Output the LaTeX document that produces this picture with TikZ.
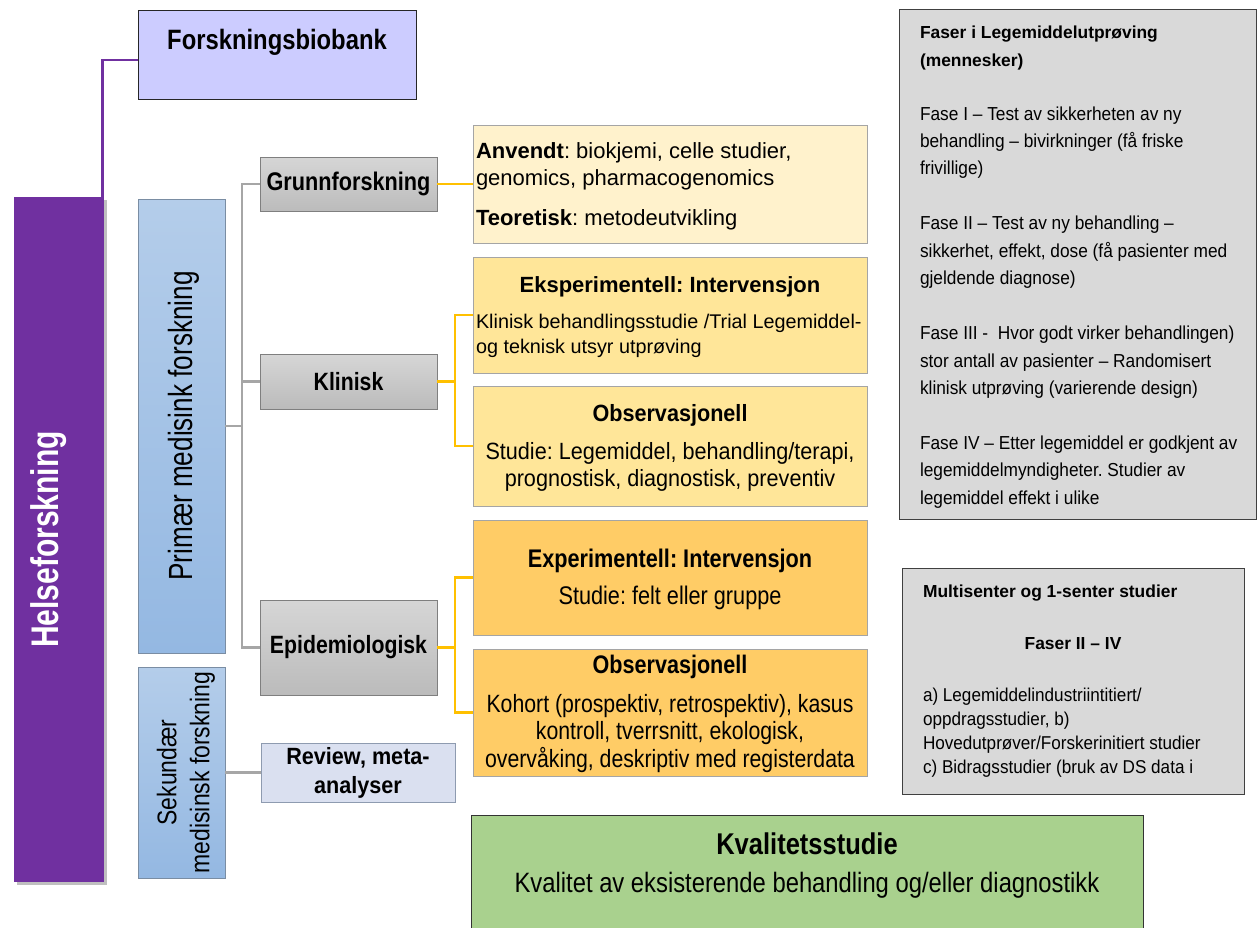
\documentclass[tikz,border=0pt]{standalone}
\usepackage{fontspec}
\setmainfont{Liberation Sans}
\newfontfamily\fA{Liberation Sans}
\newfontfamily\fB{Liberation Sans}[FakeStretch=0.92]
\newfontfamily\fC{Liberation Sans}[FakeStretch=0.85]
\newfontfamily\fD{Liberation Sans}[FakeStretch=0.78]
\usetikzlibrary{shadows,calc}
\definecolor{purp}{HTML}{7030A0}
\definecolor{lav}{HTML}{CCCCFF}
\definecolor{blueTop}{HTML}{B4CDEA}
\definecolor{blueBot}{HTML}{94B8E2}
\definecolor{blueBorder}{HTML}{7A8DA3}
\definecolor{grayTop}{HTML}{D6D6D6}
\definecolor{grayBot}{HTML}{BBBBBB}
\definecolor{grayBorder}{HTML}{7F7F7F}
\definecolor{revFill}{HTML}{DAE0F0}
\definecolor{revBorder}{HTML}{8E9BB0}
\definecolor{cream}{HTML}{FFF2CC}
\definecolor{yelA}{HTML}{FFE699}
\definecolor{yelB}{HTML}{FFCC66}
\definecolor{boxBorder}{HTML}{A5A5A5}
\definecolor{lineGray}{HTML}{A6A6A6}
\definecolor{lineYel}{HTML}{FFC000}
\definecolor{faserFill}{HTML}{D9D9D9}
\definecolor{greenFill}{HTML}{A9D18E}
\newcommand\fsz[2]{\fontsize{#1}{#2}\selectfont}
\frenchspacing
\begin{document}
\begin{tikzpicture}[x=1pt,y=-1pt,
  every node/.style={inner sep=0pt, outer sep=0pt},
  nw/.style={anchor=north west},
  biobox/.style={nw, draw=black!85, line width=1pt, fill=lav},
  helsebar/.style={nw, fill=purp, drop shadow={shadow xshift=3pt, shadow yshift=-3pt, opacity=0.25, fill=black}},
  bluebox/.style={nw, draw=blueBorder, line width=1pt, top color=blueTop, bottom color=blueBot},
  graybox/.style={nw, draw=grayBorder, line width=1pt, top color=grayTop, bottom color=grayBot},
  revbox/.style={nw, draw=revBorder, line width=1pt, fill=revFill},
  creambox/.style={nw, draw=boxBorder, line width=1pt, fill=cream},
  yelAbox/.style={nw, draw=boxBorder, line width=1pt, fill=yelA},
  yelBbox/.style={nw, draw=boxBorder, line width=1pt, fill=yelB},
  infobox/.style={nw, draw=black!75, line width=1pt, fill=faserFill},
  greenbox/.style={nw, draw=black!80, line width=1pt, fill=greenFill},
  purpline/.style={draw=purp, line width=2.5pt},
  grayline/.style={draw=lineGray, line width=2.2pt},
  yelline/.style={draw=lineYel, line width=2.2pt},
]
\useasboundingbox (0,0) rectangle (1257,927);
\clip (0,0) rectangle (1257,927);

% left column
\node[helsebar, minimum width=90, minimum height=685] (helse) at (14,197) {};
\node[rotate=90, anchor=base, text=white, font=\fD\bfseries\fsz{38.5}{40}] (helseT) at (58,539.5) {Helseforskning};

\node[biobox, minimum width=278, minimum height=89] (biobank) at (138,10) {};
\node[anchor=base, font=\fC\bfseries\fsz{28}{32}] (biobankT) at (277,49) {Forskningsbiobank};

\node[bluebox, minimum width=87, minimum height=454] (primaer) at (138,199) {};
\node[rotate=90, anchor=base, font=\fD\fsz{33.5}{36}] (primaerT) at (192,426) {Primær medisink forskning};

\node[bluebox, minimum width=87, minimum height=211] (sek) at (138,667) {};
\node[rotate=90, align=center, font=\fC\fsz{27}{33}] (sekT) at (186,772.5) {Sekundær\\medisinsk forskning};

% middle column
\node[graybox, minimum width=177, minimum height=54, font=\fC\bfseries\fsz{25.5}{28}] (grunn) at (260,157) {Grunnforskning};
\node[graybox, minimum width=177, minimum height=55, font=\fC\bfseries\fsz{25}{28}] (klinisk) at (260,354) {Klinisk};
\node[graybox, minimum width=177, minimum height=95, font=\fC\bfseries\fsz{25}{28}] (epi) at (260,600) {Epidemiologisk};
\node[revbox, minimum width=194, minimum height=59, align=center, font=\fB\bfseries\fsz{23.5}{29}] (review) at (261,743) {Review, meta-\\analyser};

% right column boxes (multi-line texts: base anchor = last line's baseline)
\node[creambox, minimum width=394, minimum height=118] (anvendt) at (473,125) {};
\node[anchor=base west, align=left, font=\fA\fsz{22}{26.3}] (anvendtT) at (476,225)
  {\textbf{Anvendt}: biokjemi, celle studier,\\genomics, pharmacogenomics\\[13.7pt]\textbf{Teoretisk}: metodeutvikling};

\node[yelAbox, minimum width=394, minimum height=116] (exp1) at (473,257) {};
\node[anchor=base, font=\fA\bfseries\fsz{22}{26}] (exp1T) at (670,292.7) {Eksperimentell: Intervensjon};
\node[anchor=base west, align=left, font=\fA\fsz{19.8}{25}] (exp1B) at (476,353)
  {Klinisk behandlingsstudie /Trial Legemiddel-\\og teknisk utsyr utprøving};

\node[yelAbox, minimum width=394, minimum height=120] (obs1) at (473,386) {};
\node[anchor=base, font=\fB\bfseries\fsz{23.5}{27}] (obs1T) at (670,421.7) {Observasjonell};
\node[anchor=base, align=center, font=\fB\fsz{23.5}{27}] (obs1B) at (670,486)
  {Studie: Legemiddel, behandling/terapi,\\prognostisk, diagnostisk, preventiv};

\node[yelBbox, minimum width=394, minimum height=115] (exp2) at (473,520) {};
\node[anchor=base, font=\fC\bfseries\fsz{25.5}{28}] (exp2T) at (670,567.3) {Experimentell: Intervensjon};
\node[anchor=base, font=\fC\fsz{25.5}{28}] (exp2B) at (670,604) {Studie: felt eller gruppe};

\node[yelBbox, minimum width=394, minimum height=127] (obs2) at (473,649) {};
\node[anchor=base, font=\fC\bfseries\fsz{25.4}{28}] (obs2T) at (670,673) {Observasjonell};
\node[anchor=base, align=center, font=\fC\fsz{25}{27.5}] (obs2B) at (670,767)
  {Kohort (prospektiv, retrospektiv), kasus\\kontroll, tverrsnitt, ekologisk,\\overvåking, deskriptiv med registerdata};

% info boxes
\node[infobox, minimum width=357, minimum height=510] (faser) at (899,9) {};
\node[anchor=base west, align=left, font=\fA\bfseries\fsz{17.4}{28}] (faserT) at (920,66)
  {Faser i Legemiddelutprøving\\(mennesker)};
\node[anchor=base west, align=left, font=\fB\fsz{18.8}{27.45}] (faserB) at (920,504.3)
  {Fase I – Test av sikkerheten av ny\\behandling – bivirkninger (få friske\\frivillige)\\[27.45pt]
   Fase II – Test av ny behandling –\\sikkerhet, effekt, dose (få pasienter med\\gjeldende diagnose)\\[27.45pt]
   Fase III -\ \ Hvor godt virker behandlingen)\\stor antall av pasienter – Randomisert\\klinisk utprøving (varierende design)\\[27.45pt]
   Fase IV – Etter legemiddel er godkjent av\\legemiddelmyndigheter. Studier av\\legemiddel effekt i ulike};

\node[infobox, minimum width=342, minimum height=226] (multi) at (902,568) {};
\node[anchor=base west, font=\fA\bfseries\fsz{17.4}{20}] (multiT) at (923,597) {Multisenter og 1-senter studier};
\node[anchor=base, font=\fA\bfseries\fsz{17.4}{20}] (multiF) at (1073,649.5) {Faser II – IV};
\node[anchor=base west, align=left, font=\fB\fsz{18.6}{24}] (multiB) at (923,773.5)
  {a) Legemiddelindustriintitiert/\\oppdragsstudier, b)\\Hovedutprøver/Forskerinitiert studier\\c) Bidragsstudier (bruk av DS data i};

\node[greenbox, minimum width=672, minimum height=140] (kval) at (471,815) {};
\node[anchor=base, font=\fC\bfseries\fsz{30}{34}] (kvalT) at (807,854) {Kvalitetsstudie};
\node[anchor=base, font=\fC\fsz{28}{32}] (kvalB) at (807,892) {Kvalitet av eksisterende behandling og/eller diagnostikk};

% connectors
\draw[purpline] ([xshift=-1.5pt]helse.north east) |- ([yshift=-5.5pt]biobank.west);

\coordinate (gx) at (242,426);
\draw[grayline] (primaer.east) -- (gx);
\draw[grayline] (grunn.west) -| (gx) |- (epi.west);
\draw[grayline] (gx |- klinisk.west) -- (klinisk.west);
\draw[grayline] (sek.east) -- (review.west);

\draw[yelline] (grunn.east) -- (anvendt.west);
\coordinate (kx) at (455,381.5);
\draw[yelline] (klinisk.east) -- (kx);
\draw[yelline] (exp1.west) -| (kx) |- (obs1.west);
\coordinate (ex) at (455,647.5);
\draw[yelline] (epi.east) -- (ex);
\draw[yelline] (exp2.west) -| (ex) |- (obs2.west);
\end{tikzpicture}
\end{document}
